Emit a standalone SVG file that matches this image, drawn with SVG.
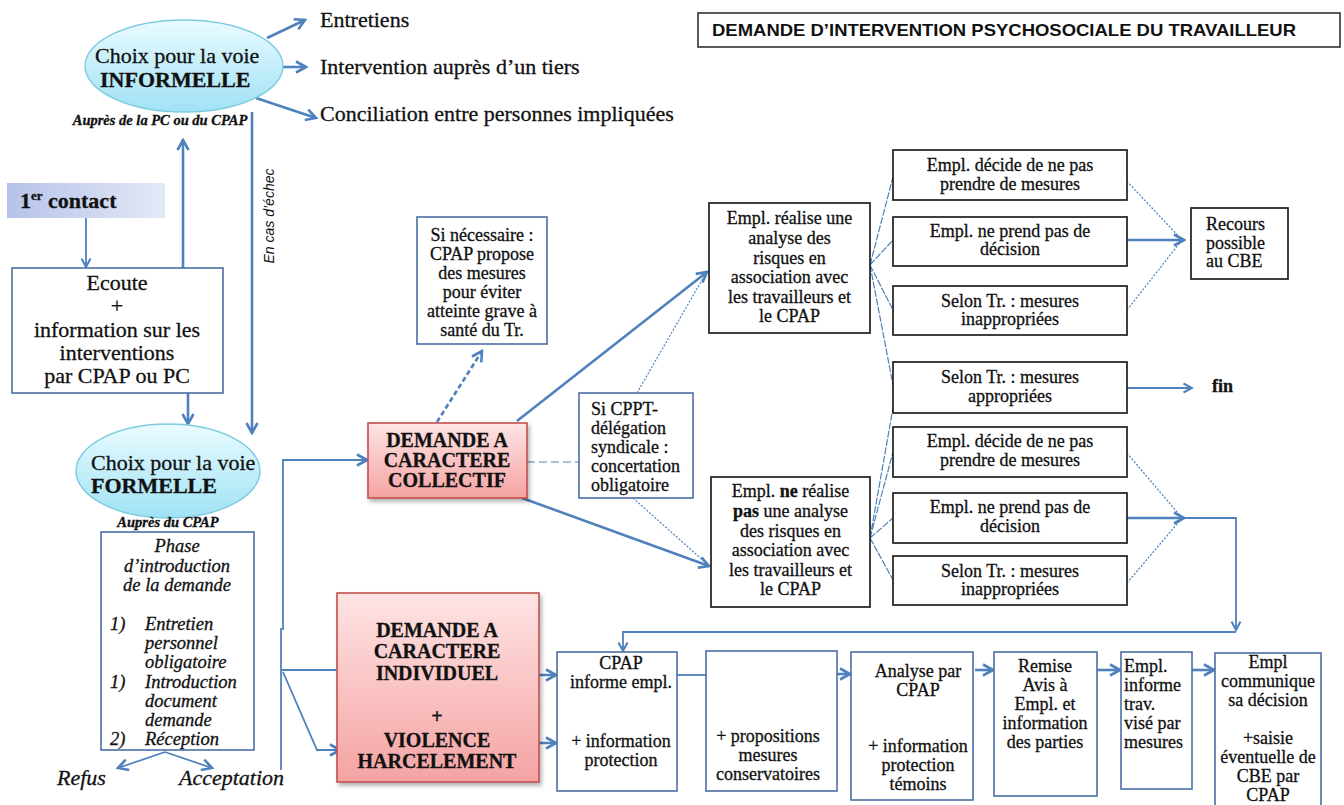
<svg xmlns="http://www.w3.org/2000/svg" width="1344" height="805" viewBox="0 0 1344 805">
<defs>
<style>
.t{font-family:"Liberation Serif","Times New Roman",serif;fill:#111;font-size:18px;stroke:#111;stroke-width:0.3}
.c{text-anchor:middle}
.b{font-weight:bold}
.i{font-style:italic}
.big{font-size:22px}
.dm{font-size:20px}
.au{font-size:14.5px}
.ph{font-size:18.5px}
.ct{font-size:22px}
.sup{font-size:13px}
.ln{stroke:#4f81bd;fill:none;stroke-width:2.6}
.md{stroke-width:1.8}
.th{stroke-width:1.2}
.dot{stroke-dasharray:2 1.6}
.dsh{stroke-dasharray:5 3}
.fan{stroke:#4f81bd;fill:none;stroke-width:1.2;stroke-dasharray:7 1.5}
.bx{fill:#fff;stroke:#4a6fa5;stroke-width:1.6}
.bk{fill:#fff;stroke:#1e1e1e;stroke-width:1.7}
.rd{fill:url(#gr);stroke:#c0504d;stroke-width:1.6;filter:url(#sh)}
.el{fill:url(#gc);stroke:#7ecbe0;stroke-width:1.4}
</style>
<linearGradient id="gr" x1="0" y1="0" x2="0" y2="1"><stop offset="0" stop-color="#fee4e4"/><stop offset="1" stop-color="#f5a3a3"/></linearGradient>
<linearGradient id="gc" x1="0" y1="0" x2="0" y2="1"><stop offset="0" stop-color="#eafbff"/><stop offset="1" stop-color="#9fe2f5"/></linearGradient>
<linearGradient id="gb" x1="0" y1="0" x2="1" y2="0"><stop offset="0" stop-color="#b6c2e9"/><stop offset="1" stop-color="#e4e9f7"/></linearGradient>
<filter id="sh" x="-10%" y="-10%" width="125%" height="125%"><feDropShadow dx="2" dy="3" stdDeviation="2" flood-color="#000" flood-opacity="0.3"/></filter>
<marker id="a" viewBox="0 0 14 14" refX="12" refY="7" markerWidth="14" markerHeight="14" markerUnits="userSpaceOnUse" orient="auto"><path d="M2,1.5 L12,7 L2,12.5" fill="none" stroke="#4f81bd" stroke-width="2.6"/></marker>
<marker id="s" viewBox="0 0 12 12" refX="10.5" refY="6" markerWidth="12" markerHeight="12" markerUnits="userSpaceOnUse" orient="auto"><path d="M2,1.5 L10.5,6 L2,10.5" fill="none" stroke="#4f81bd" stroke-width="2"/></marker>
</defs>
<rect width="1344" height="805" fill="#fff"/>

<g id="connectors">
<path class="ln" d="M267,38 L305,20" marker-end="url(#a)"/>
<path class="ln" d="M283,67 L306,67" marker-end="url(#a)"/>
<path class="ln" d="M256,98 L316,118" marker-end="url(#a)"/>
<path class="ln md" d="M86,218 L86,267" marker-end="url(#s)"/>
<path class="ln" d="M183,268 L183,140" marker-end="url(#a)"/>
<path class="ln" d="M252,112 L252,433" marker-end="url(#a)"/>
<path class="ln" d="M188,393 L188,424" marker-end="url(#a)"/>
<path class="ln md" d="M165,752 L118,768" marker-end="url(#a)"/>
<path class="ln md" d="M165,752 L212,768" marker-end="url(#a)"/>
<path class="ln md" d="M283,630 L283,460 L367,460" marker-end="url(#a)"/>
<path class="ln md" d="M281,628 L281,770"/>
<path class="ln md" d="M281,670 L347,670" marker-end="url(#a)"/>
<path class="ln md" d="M283,672 L317,750 L340,750" marker-end="url(#a)"/>
<path class="ln dsh" d="M437,422 L482,351" marker-end="url(#a)"/>
<path class="ln" d="M517,421 L707,272" marker-end="url(#a)"/>
<path class="ln" d="M522,498 L709,566" marker-end="url(#a)"/>
<path class="ln th" style="stroke-dasharray:8 4" d="M527,462 L579,462"/>
<path class="ln th dot" d="M637,393 L706,273"/>
<path class="ln th dot" d="M633,498 L706,563"/>
<path class="fan" d="M870,265 L893,177 M870,265 L893,240 M870,265 L893,310 M870,265 L893,385"/>
<path class="fan" d="M870,538 L893,408 M870,538 L893,452 M870,538 L893,518 M870,538 L893,580"/>
<path class="ln th dot" d="M1122,176 L1182,240"/>
<path class="ln" d="M1127,240 L1184,240" marker-end="url(#a)"/>
<path class="ln th dot" d="M1127,310 L1182,240"/>
<path class="ln md" d="M1127,388 L1192,388" marker-end="url(#s)"/>
<path class="ln th dot" d="M1127,453 L1182,518"/>
<path class="ln" d="M1127,518 L1184,518" marker-end="url(#a)"/>
<path class="ln th dot" d="M1127,583 L1182,518"/>
<path class="ln md" d="M1182,518 L1236,518 L1236,630" marker-end="url(#s)"/>
<path class="ln md" d="M1236,632 L623,632 L623,651" marker-end="url(#s)"/>
<path class="ln" d="M518,675 L556,675" marker-end="url(#a)"/>
<path class="ln" d="M496,743 L556,743" marker-end="url(#a)"/>
<path class="ln md" d="M677,675 L706,675"/>
<path class="ln" d="M837,674 L850,674" marker-end="url(#a)"/>
<path class="ln" d="M975,670 L993,670" marker-end="url(#a)"/>
<path class="ln" d="M1097,670 L1120,670" marker-end="url(#a)"/>
<path class="ln" d="M1192,670 L1214,670" marker-end="url(#a)"/>
</g>

<g id="title">
<rect x="698" y="13" width="642" height="34" fill="#fff" stroke="#333" stroke-width="1.6"/>
<text x="712" y="36" font-family="'Liberation Sans',Arial,sans-serif" font-weight="bold" font-size="16.5" fill="#111" textLength="584" lengthAdjust="spacingAndGlyphs">DEMANDE D’INTERVENTION PSYCHOSOCIALE DU TRAVAILLEUR</text>
</g>

<g id="informelle">
<ellipse class="el" cx="184" cy="66" rx="99" ry="46"/>
<text class="t big" x="95" y="63">Choix pour la voie</text>
<text class="t big b" x="100" y="87">INFORMELLE</text>
<text class="t b i c au" x="160" y="125">Auprès de la PC ou du CPAP</text>
</g>

<g id="options">
<text class="t big" x="320" y="27">Entretiens</text>
<text class="t big" x="320" y="74">Intervention auprès d’un tiers</text>
<text class="t big" x="320" y="121">Conciliation entre personnes impliquées</text>
</g>

<g id="echec">
<text x="0" y="0" transform="translate(274,216) rotate(-90)" text-anchor="middle" font-family="'Liberation Sans',Arial,sans-serif" font-style="italic" font-size="14" fill="#111">En cas d’échec</text>
</g>

<g id="contact">
<rect x="7" y="183" width="158" height="35" fill="url(#gb)"/>
<text class="t b ct" x="20" y="208">1<tspan class="sup" dy="-8">er</tspan><tspan dy="8"> contact</tspan></text>
</g>

<g id="ecoute">
<rect class="bx" x="12" y="268" width="211" height="125"/>
<text class="t big c" x="117" y="290">Ecoute</text>
<text class="t big c" x="117" y="313">+</text>
<text class="t big c" x="117" y="337">information sur les</text>
<text class="t big c" x="117" y="360">interventions</text>
<text class="t big c" x="117" y="383">par CPAP ou PC</text>
</g>

<g id="formelle">
<ellipse class="el" cx="168" cy="471" rx="92" ry="47"/>
<text class="t big" x="91" y="470">Choix pour la voie</text>
<text class="t big b" x="91" y="493">FORMELLE</text>
<text class="t b i c au" x="168" y="527">Auprès du CPAP</text>
</g>

<g id="phase">
<rect class="bx" x="101" y="532" width="153" height="218"/>
<text class="t i c ph" x="177" y="552">Phase</text>
<text class="t i c ph" x="177" y="572">d’introduction</text>
<text class="t i c ph" x="177" y="591">de la demande</text>
<text class="t i ph" x="110" y="630">1)</text>
<text class="t i ph" x="145" y="630">Entretien</text>
<text class="t i ph" x="145" y="649">personnel</text>
<text class="t i ph" x="145" y="668">obligatoire</text>
<text class="t i ph" x="110" y="688">1)</text>
<text class="t i ph" x="145" y="688">Introduction</text>
<text class="t i ph" x="145" y="707">document</text>
<text class="t i ph" x="145" y="726">demande</text>
<text class="t i ph" x="110" y="745">2)</text>
<text class="t i ph" x="145" y="745">Réception</text>
</g>

<g id="issues">
<text class="t i big" x="57" y="785">Refus</text>
<text class="t i big" x="179" y="785">Acceptation</text>
</g>

<g id="collectif">
<rect class="rd" x="368" y="423" width="159" height="75"/>
<text class="t b c dm" x="447" y="447">DEMANDE A</text>
<text class="t b c dm" x="447" y="467">CARACTERE</text>
<text class="t b c dm" x="447" y="487">COLLECTIF</text>
</g>

<g id="individuel">
<rect class="rd" x="337" y="593" width="202" height="189"/>
<text class="t b c dm" x="437" y="637">DEMANDE A</text>
<text class="t b c dm" x="437" y="658">CARACTERE</text>
<text class="t b c dm" x="437" y="680">INDIVIDUEL</text>
<text class="t b c dm" x="437" y="723">+</text>
<text class="t b c dm" x="437" y="747">VIOLENCE</text>
<text class="t b c dm" x="437" y="768">HARCELEMENT</text>
</g>

<g id="si-necessaire">
<rect class="bx" x="417" y="217" width="130" height="127"/>
<text class="t c" x="482" y="241">Si nécessaire :</text>
<text class="t c" x="482" y="260">CPAP propose</text>
<text class="t c" x="482" y="279">des mesures</text>
<text class="t c" x="482" y="298">pour éviter</text>
<text class="t c" x="482" y="317">atteinte grave à</text>
<text class="t c" x="482" y="336">santé du Tr.</text>
</g>

<g id="si-cppt">
<rect class="bx" x="579" y="393" width="114" height="105"/>
<text class="t" x="591" y="415">Si CPPT-</text>
<text class="t" x="591" y="434">délégation</text>
<text class="t" x="591" y="453">syndicale :</text>
<text class="t" x="591" y="472">concertation</text>
<text class="t" x="591" y="491">obligatoire</text>
</g>

<g id="analyse-oui">
<rect class="bk" x="709" y="203" width="161" height="130"/>
<text class="t c" x="789.5" y="224">Empl. réalise une</text>
<text class="t c" x="789.5" y="244">analyse des</text>
<text class="t c" x="789.5" y="264">risques en</text>
<text class="t c" x="789.5" y="283">association avec</text>
<text class="t c" x="789.5" y="303">les travailleurs et</text>
<text class="t c" x="789.5" y="322">le CPAP</text>
</g>

<g id="analyse-non">
<rect class="bk" x="711" y="477" width="159" height="130"/>
<text class="t c" x="790.5" y="497">Empl. <tspan class="b">ne</tspan> réalise</text>
<text class="t c" x="790.5" y="517"><tspan class="b">pas</tspan> une analyse</text>
<text class="t c" x="790.5" y="537">des risques en</text>
<text class="t c" x="790.5" y="556">association avec</text>
<text class="t c" x="790.5" y="576">les travailleurs et</text>
<text class="t c" x="790.5" y="595">le CPAP</text>
</g>

<g id="r-a">
<rect class="bk" x="893" y="150" width="234" height="50"/>
<text class="t c" x="1010" y="171">Empl. décide de ne pas</text>
<text class="t c" x="1010" y="190">prendre de mesures</text>
</g>
<g id="r-b">
<rect class="bk" x="893" y="217" width="234" height="49"/>
<text class="t c" x="1010" y="237">Empl. ne prend pas de</text>
<text class="t c" x="1010" y="255">décision</text>
</g>
<g id="r-c">
<rect class="bk" x="893" y="286" width="234" height="49"/>
<text class="t c" x="1010" y="307">Selon Tr. : mesures</text>
<text class="t c" x="1010" y="325">inappropriées</text>
</g>
<g id="r-d">
<rect class="bk" x="893" y="362" width="234" height="51"/>
<text class="t c" x="1010" y="383">Selon Tr. : mesures</text>
<text class="t c" x="1010" y="402">appropriées</text>
</g>
<g id="r-e">
<rect class="bk" x="893" y="427" width="234" height="50"/>
<text class="t c" x="1010" y="447">Empl. décide de ne pas</text>
<text class="t c" x="1010" y="466">prendre de mesures</text>
</g>
<g id="r-f">
<rect class="bk" x="893" y="493" width="234" height="50"/>
<text class="t c" x="1010" y="513">Empl. ne prend pas de</text>
<text class="t c" x="1010" y="532">décision</text>
</g>
<g id="r-g">
<rect class="bk" x="893" y="556" width="234" height="49"/>
<text class="t c" x="1010" y="577">Selon Tr. : mesures</text>
<text class="t c" x="1010" y="595">inappropriées</text>
</g>

<g id="recours">
<rect class="bk" x="1191" y="208" width="97" height="71"/>
<text class="t" x="1206" y="230">Recours</text>
<text class="t" x="1206" y="249">possible</text>
<text class="t" x="1206" y="267">au CBE</text>
</g>

<g id="fin">
<text class="t b" x="1212" y="392">fin</text>
</g>

<g id="cpap-informe">
<rect class="bx" x="557" y="652" width="120" height="139"/>
<text class="t c" x="621" y="669">CPAP</text>
<text class="t c" x="621" y="688">informe empl.</text>
<text class="t c" x="621" y="747">+ information</text>
<text class="t c" x="621" y="766">protection</text>
</g>

<g id="propositions">
<rect class="bx" x="706" y="651" width="131" height="140"/>
<text class="t c" x="768" y="742">+ propositions</text>
<text class="t c" x="768" y="761">mesures</text>
<text class="t c" x="768" y="780">conservatoires</text>
</g>

<g id="analyse-cpap">
<rect class="bx" x="851" y="652" width="122" height="148"/>
<text class="t c" x="918" y="677">Analyse par</text>
<text class="t c" x="918" y="696">CPAP</text>
<text class="t c" x="918" y="752">+ information</text>
<text class="t c" x="918" y="771">protection</text>
<text class="t c" x="918" y="790">témoins</text>
</g>

<g id="remise">
<rect class="bx" x="994" y="652" width="103" height="144"/>
<text class="t c" x="1045" y="672">Remise</text>
<text class="t c" x="1045" y="691">Avis à</text>
<text class="t c" x="1045" y="710">Empl. et</text>
<text class="t c" x="1045" y="729">information</text>
<text class="t c" x="1045" y="748">des parties</text>
</g>

<g id="empl-informe">
<rect class="bx" x="1121" y="652" width="71" height="137"/>
<text class="t" x="1124" y="672">Empl.</text>
<text class="t" x="1124" y="691">informe</text>
<text class="t" x="1124" y="710">trav.</text>
<text class="t" x="1124" y="729">visé par</text>
<text class="t" x="1124" y="748">mesures</text>
</g>

<g id="empl-communique">
<rect class="bx" x="1215" y="653" width="106" height="162"/>
<text class="t c" x="1268" y="668">Empl</text>
<text class="t c" x="1268" y="687">communique</text>
<text class="t c" x="1268" y="706">sa décision</text>
<text class="t c" x="1268" y="744">+saisie</text>
<text class="t c" x="1268" y="763">éventuelle de</text>
<text class="t c" x="1268" y="782">CBE par</text>
<text class="t c" x="1268" y="801">CPAP</text>
</g>
</svg>
